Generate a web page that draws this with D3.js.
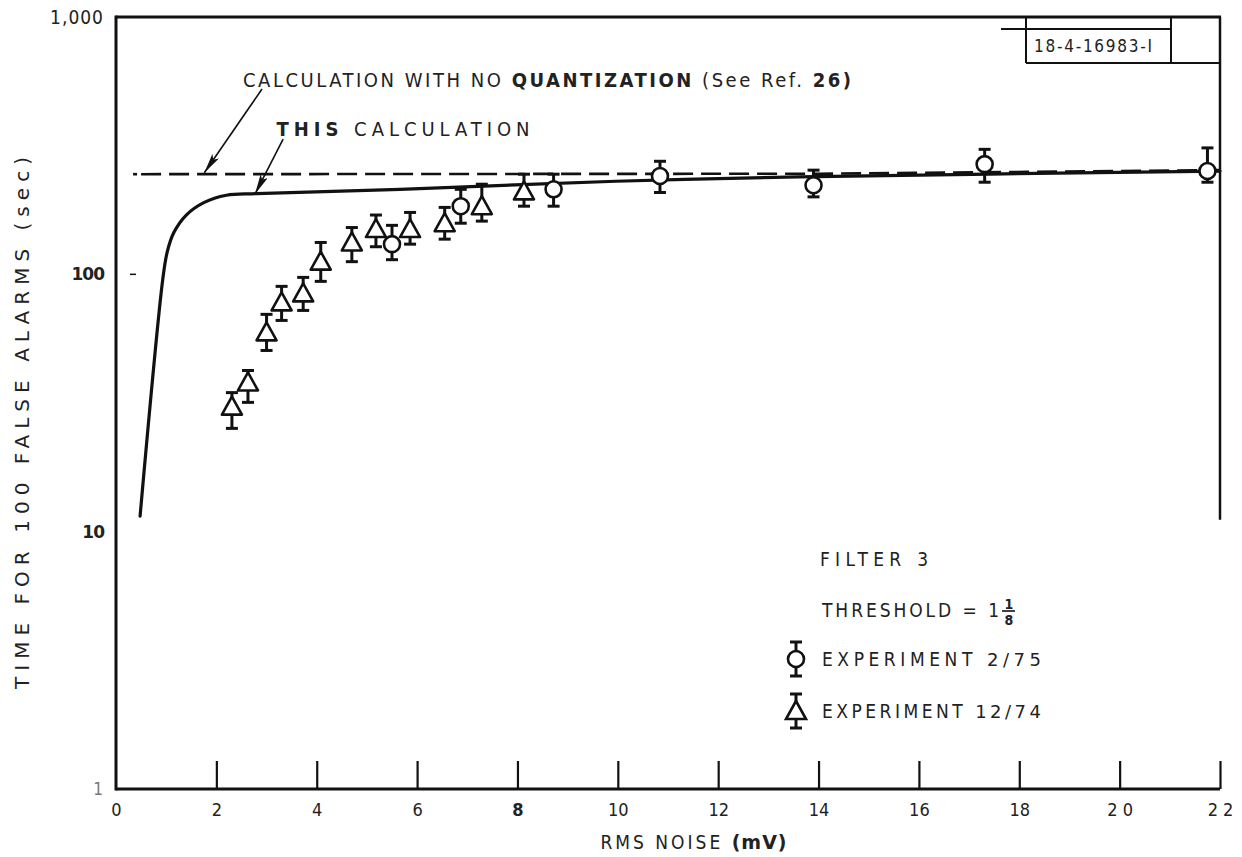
<!DOCTYPE html>
<html><head><meta charset="utf-8">
<script src="https://cdn.jsdelivr.net/npm/d3@7"></script>
<style>body{margin:0;background:#fff}</style>
</head><body>
<svg id="c" width="1242" height="857"></svg>
<script>
// ---- data ----
const xTicks = [0,2,4,6,8,10,12,14,16,18,20,22];
const xTickLabels = ["0","2","4","6","8","10","12","14","16","18","2 0","2 2"];
const yTicks = [1,10,100,1000];
const yTickLabels = ["1","10","100","1,000"];
const yDashTicks = [100];

// "THIS CALCULATION" (solid)
const calcX = [0.48,0.93,1.02,1.15,1.4,1.75,2.2,2.8,5.66,9.96,13.6,22];
const calcY = [11.5,95,122,145,170,190,203,206,214,230,239,252];
// "CALCULATION WITH NO QUANTIZATION" (dashed)
const noQuantX = [0.5,14,22];
const noQuantY = [245,246,254];
const noQuantDot = [0.34,245];

// Experiment 2/75 (circles)
const exp275X  = [5.50,6.87,8.72,10.84,13.9,17.31,21.75];
const exp275Y  = [131,184,214,241,222,268,252];
const exp275Hi = [155,214,245,275,254,306,310];
const exp275Lo = [114,158,184,208,200,228,228];
// Experiment 12/74 (triangles)
const exp1274X  = [2.31,2.63,3.0,3.3,3.73,4.08,4.70,5.18,5.86,6.55,7.29,8.13];
const exp1274Y  = [30.6,38.0,59.5,77.8,84.3,112,133,150,150,158,184,210];
const exp1274Hi = [34.7,42.3,69.9,89.8,97.3,133,152,170,174,182,224,245];
const exp1274Lo = [25.2,31.8,50.6,66.2,72.4,93.9,112,128,131,137,161,184];

// ---- drawing ----
const svg = d3.select("#c");
const x = d3.scaleLinear().domain([0,22]).range([116,1220]);
const y = d3.scaleLog().domain([1,1000]).range([789,17]);
const NARROW = "'Liberation Sans Narrow','DejaVu Sans Condensed','Liberation Sans',Arial,sans-serif";
const INK = "#111";

// frame
const g = svg.append("g");
g.append("line").attr("x1",x(0)).attr("x2",x(0)).attr("y1",y(1)+1.5).attr("y2",y(1000)-1.5)
  .attr("stroke",INK).attr("stroke-width",3);
g.append("line").attr("x1",x(0)).attr("x2",x(22)).attr("y1",y(1)).attr("y2",y(1))
  .attr("stroke",INK).attr("stroke-width",3);
g.append("line").attr("x1",x(0)).attr("x2",x(22)+1).attr("y1",y(1000)).attr("y2",y(1000))
  .attr("stroke",INK).attr("stroke-width",3);
g.append("line").attr("x1",x(22)).attr("x2",x(22)).attr("y1",y(1000)).attr("y2",y(10)-12)
  .attr("stroke",INK).attr("stroke-width",2.5);

// x axis (ticks upward)
const xAxis = d3.axisBottom(x).tickValues(xTicks).tickSize(-28).tickSizeOuter(0)
  .tickFormat((d,i)=>xTickLabels[i]).tickPadding(12);
const xa = svg.append("g").attr("transform",`translate(0,${y(1)})`).call(xAxis);
xa.select(".domain").remove();
xa.selectAll(".tick line").attr("stroke",INK).attr("stroke-width",2.2).attr("y1",0);
xa.selectAll(".tick").filter(d=>d===0).select("line").remove();
xa.selectAll(".tick text").attr("font-family",NARROW).attr("font-size",18)
  .attr("fill","#222").attr("y",14).attr("dy","0.71em")
  .attr("font-weight",d=>d===8?"bold":"normal");

// y axis labels
const yAxis = d3.axisLeft(y).tickValues(yTicks).tickSize(0).tickPadding(12)
  .tickFormat((d,i)=>yTickLabels[i]);
const ya = svg.append("g").attr("transform",`translate(${x(0)},0)`).call(yAxis);
ya.select(".domain").remove();
ya.selectAll(".tick text").attr("font-family",NARROW).attr("font-size",19).attr("fill","#222")
  .attr("letter-spacing",1);
ya.selectAll(".tick").filter(d=>d===100||d===10).select("text").attr("font-family","'DejaVu Sans',sans-serif")
  .attr("font-size",17).attr("font-weight","bold").attr("letter-spacing",-1);
ya.selectAll(".tick").filter(d=>d===1).select("text").attr("fill","#777").attr("font-size",17);
svg.append("g").selectAll("line").data(yDashTicks).join("line")
  .attr("x1",x(0)+14).attr("x2",x(0)+20).attr("y1",d=>y(d)).attr("y2",d=>y(d))
  .attr("stroke",INK).attr("stroke-width",1.5);

// axis titles
svg.append("text").attr("x",(x(0)+x(22))/2+26).attr("y",849)
  .attr("text-anchor","middle").attr("font-family",NARROW).attr("font-size",19)
  .attr("letter-spacing",3).attr("fill","#222")
  .call(t=>{t.append("tspan").text("RMS NOISE ");
            t.append("tspan").attr("font-weight","bold").attr("font-family","'DejaVu Sans',sans-serif").attr("letter-spacing",1).text("(mV)");});
svg.append("text").attr("transform",`translate(29,423) rotate(-90)`)
  .attr("text-anchor","middle").attr("font-family","'DejaVu Sans',sans-serif").attr("font-size",20)
  .attr("textLength",532).attr("lengthAdjust","spacing").attr("fill","#222")
  .text("TIME FOR 100 FALSE ALARMS (sec)");

// lines
svg.append("line").attr("x1",x(noQuantDot[0])).attr("x2",x(noQuantDot[0])+4)
  .attr("y1",y(noQuantDot[1])).attr("y2",y(noQuantDot[1]))
  .attr("stroke",INK).attr("stroke-width",2.6);
svg.append("path").datum(noQuantX.map((v,i)=>[v,noQuantY[i]]))
  .attr("d",d3.line().x(d=>x(d[0])).y(d=>y(d[1])))
  .attr("fill","none").attr("stroke",INK).attr("stroke-width",2.6).attr("stroke-dasharray","20,8");
svg.append("path").datum(calcX.map((v,i)=>[v,calcY[i]]))
  .attr("d",d3.line().x(d=>x(d[0])).y(d=>y(d[1])).curve(d3.curveCatmullRom.alpha(0.5)))
  .attr("fill","none").attr("stroke",INK).attr("stroke-width",3.2)
  .attr("stroke-linejoin","round").attr("stroke-linecap","round");

// error bars + markers
function errBar(sel, xs, his, los) {
  const gg = sel.append("g");
  xs.forEach((xv,i)=>{
    const cx = x(xv);
    gg.append("line").attr("x1",cx).attr("x2",cx).attr("y1",y(his[i])).attr("y2",y(los[i]))
      .attr("stroke",INK).attr("stroke-width",3);
    [his[i],los[i]].forEach(v=>{
      gg.append("line").attr("x1",cx-6).attr("x2",cx+6).attr("y1",y(v)).attr("y2",y(v))
        .attr("stroke",INK).attr("stroke-width",3);
    });
  });
}
const triPath = (cx,cy)=>`M${cx},${cy-10}L${cx+10},${cy+8}L${cx-10},${cy+8}Z`;

const dataG = svg.append("g");
errBar(dataG, exp1274X, exp1274Hi, exp1274Lo);
errBar(dataG, exp275X, exp275Hi, exp275Lo);
dataG.selectAll("path.tri").data(exp1274X.map((v,i)=>[v,exp1274Y[i]])).join("path")
  .attr("class","tri").attr("d",d=>triPath(x(d[0]),y(d[1])))
  .attr("fill","#fff").attr("stroke",INK).attr("stroke-width",2.6).attr("stroke-linejoin","round");
dataG.selectAll("circle").data(exp275X.map((v,i)=>[v,exp275Y[i]])).join("circle")
  .attr("cx",d=>x(d[0])).attr("cy",d=>y(d[1])).attr("r",8)
  .attr("fill","#fff").attr("stroke",INK).attr("stroke-width",2.6);

// annotations + arrows
const defs = svg.append("defs");
defs.append("marker").attr("id","arr").attr("viewBox","0 0 20 8").attr("refX",20).attr("refY",4)
  .attr("markerWidth",20).attr("markerHeight",8).attr("markerUnits","userSpaceOnUse").attr("orient","auto")
  .append("path").attr("d","M0,0L20,4L0,8L4,4Z").attr("fill",INK);
const arrows = [
  {from:[2.91,525], to:[1.76,248]},
  {from:[3.33,335], to:[2.77,205]}
];
svg.append("g").selectAll("line").data(arrows).join("line")
  .attr("x1",d=>x(d.from[0])).attr("y1",d=>y(d.from[1]))
  .attr("x2",d=>x(d.to[0])).attr("y2",d=>y(d.to[1]))
  .attr("stroke",INK).attr("stroke-width",1.6).attr("marker-end","url(#arr)");

const t1 = svg.append("text").attr("x",x(2.53)).attr("y",y(530)-1)
  .attr("font-family",NARROW).attr("font-size",20).attr("fill","#222")
  .attr("textLength",608).attr("lengthAdjust","spacing");
t1.append("tspan").text("CALCULATION WITH NO ");
t1.append("tspan").attr("font-weight","bold").text("QUANTIZATION");
t1.append("tspan").text(" (See Ref. ");
t1.append("tspan").attr("font-weight","bold").text("26)");

const t2 = svg.append("text").attr("x",x(3.2)).attr("y",y(340)-2)
  .attr("font-family",NARROW).attr("font-size",20).attr("fill","#222")
  .attr("textLength",253).attr("lengthAdjust","spacing");
t2.append("tspan").attr("font-weight","bold").text("THIS");
t2.append("tspan").text(" CALCULATION");

// drawing number box
const bx = svg.append("g").attr("stroke",INK).attr("stroke-width",2);
bx.append("line").attr("x1",1001).attr("x2",1171).attr("y1",29).attr("y2",29);
bx.append("line").attr("x1",1026).attr("x2",1026).attr("y1",y(1000)).attr("y2",63);
bx.append("line").attr("x1",1171).attr("x2",1171).attr("y1",y(1000)).attr("y2",63);
bx.append("line").attr("x1",1026).attr("x2",x(22)).attr("y1",63).attr("y2",63);
svg.append("text").attr("x",1034).attr("y",52).attr("font-family",NARROW).attr("font-size",17)
  .attr("fill","#222").attr("textLength",118).attr("lengthAdjust","spacing").text("18-4-16983-I");

// legend
const lg = svg.append("g").attr("font-family",NARROW).attr("font-size",19).attr("fill","#222");
lg.append("text").attr("x",820).attr("y",566).attr("textLength",108).attr("lengthAdjust","spacing").text("FILTER 3");
lg.append("text").attr("x",822).attr("y",617).attr("textLength",177).attr("lengthAdjust","spacing").text("THRESHOLD = 1");
lg.append("text").attr("x",1009).attr("y",609).attr("text-anchor","middle").attr("font-size",14).attr("font-weight","bold").text("1");
lg.append("line").attr("x1",1002).attr("x2",1015).attr("y1",611).attr("y2",611).attr("stroke",INK).attr("stroke-width",1.6);
lg.append("text").attr("x",1009).attr("y",625).attr("text-anchor","middle").attr("font-size",14).attr("font-weight","bold").text("8");
const legItems = [
  {label:"EXPERIMENT ", num:"2/75", shape:"circle", cy:659},
  {label:"EXPERIMENT ", num:"12/74", shape:"tri", cy:711}
];
legItems.forEach(it=>{
  const cx = 796;
  lg.append("line").attr("x1",cx).attr("x2",cx).attr("y1",it.cy-17).attr("y2",it.cy+17).attr("stroke",INK).attr("stroke-width",3);
  [it.cy-17,it.cy+17].forEach(v=>lg.append("line").attr("x1",cx-6).attr("x2",cx+6).attr("y1",v).attr("y2",v).attr("stroke",INK).attr("stroke-width",3));
  if (it.shape==="circle") lg.append("circle").attr("cx",cx).attr("cy",it.cy).attr("r",8).attr("fill","#fff").attr("stroke",INK).attr("stroke-width",2.6);
  else lg.append("path").attr("d",triPath(cx,it.cy)).attr("fill","#fff").attr("stroke",INK).attr("stroke-width",2.6);
  const t = lg.append("text").attr("x",822).attr("y",it.cy+7).attr("textLength",219).attr("lengthAdjust","spacing");
  t.append("tspan").text(it.label);
  t.append("tspan").attr("font-family","'DejaVu Sans',sans-serif").attr("font-size",18).text(it.num);
});
</script>
</body></html>
